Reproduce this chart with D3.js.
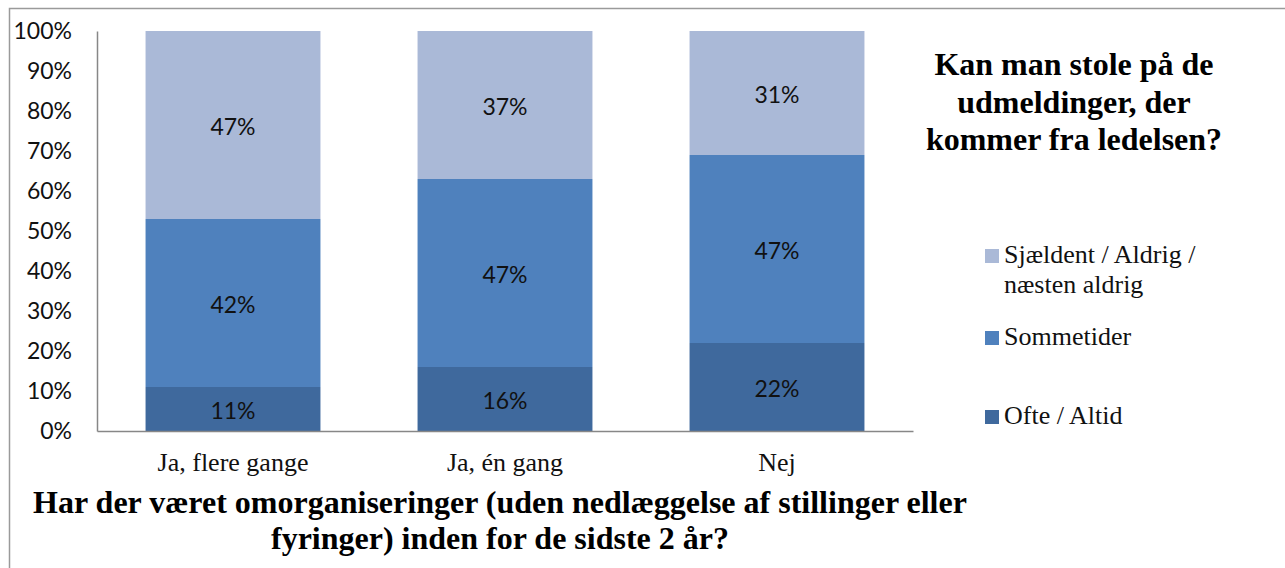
<!DOCTYPE html>
<html>
<head>
<meta charset="utf-8">
<script src="https://cdn.jsdelivr.net/npm/d3@7"></script>
<style>
  html, body { margin: 0; padding: 0; background: #fff; }
  svg { display: block; }
</style>
</head>
<body>
<svg id="chart" width="1285" height="568"></svg>
<script>
// ---- data ----
const categories = ["Ja, flere gange", "Ja, én gang", "Nej"];
const seriesNames = ["Ofte / Altid", "Sommetider", "Sjældent / Aldrig / næsten aldrig"];
const ofteAltid = [0.11, 0.16, 0.22];
const sommetider = [0.42, 0.47, 0.47];
const sjaeldent = [0.47, 0.37, 0.31];
const yTicks = [0, 0.1, 0.2, 0.3, 0.4, 0.5, 0.6, 0.7, 0.8, 0.9, 1.0];
const titleLines = ["Kan man stole på de", "udmeldinger, der", "kommer fra ledelsen?"];
const xTitleLines = ["Har der været omorganiseringer (uden nedlæggelse af stillinger eller", "fyringer) inden for de sidste 2 år?"];
const legendLabels = [["Sjældent / Aldrig /", "næsten aldrig"], ["Sommetider"], ["Ofte / Altid"]];

// ---- styling ----
const colors = ["#3F699D", "#4F81BD", "#AAB9D7"];
const sans = "Lato, 'Open Sans', sans-serif";
const serif = "'Liberation Serif', 'Times New Roman', serif";

const svg = d3.select("#chart");

// outer frame
svg.append("path")
  .attr("d", "M9.5,568 L9.5,8.5 L1285,8.5")
  .attr("fill", "none").attr("stroke", "#9a9a9a").attr("stroke-width", 1.5);

const x = d3.scaleBand().domain(categories).range([97, 913])
  .paddingInner(0.357).paddingOuter(0.1785);
const y = d3.scaleLinear().domain([0, 1]).range([431, 31]);

const rows = categories.map((c, i) => ({cat: c, s0: ofteAltid[i], s1: sommetider[i], s2: sjaeldent[i]}));
const stack = d3.stack().keys(["s0", "s1", "s2"]);
const layers = stack(rows);

const g = svg.append("g");
layers.forEach((layer, li) => {
  const lg = g.append("g");
  lg.selectAll("rect").data(layer).join("rect")
    .attr("x", d => x(d.data.cat))
    .attr("width", x.bandwidth())
    .attr("y", d => y(d[1]))
    .attr("height", d => y(d[0]) - y(d[1]))
    .attr("fill", colors[li]);
  lg.selectAll("text").data(layer).join("text")
    .attr("x", d => x(d.data.cat) + x.bandwidth() / 2)
    .attr("y", d => (y(d[0]) + y(d[1])) / 2)
    .attr("dy", "0.42em")
    .attr("text-anchor", "middle")
    .attr("font-family", sans).attr("font-size", 23)
    .attr("fill", "#111")
    .text(d => Math.round((d[1] - d[0]) * 100) + "%");
});

// y axis
const yAxis = d3.axisLeft(y).tickValues(yTicks).tickSize(0).tickPadding(25)
  .tickFormat(d => Math.round(d * 100) + "%");
const ya = svg.append("g").attr("transform", "translate(97,0)").call(yAxis);
ya.select(".domain").attr("stroke", "#878787").attr("stroke-width", 1.5);
ya.selectAll("text").attr("font-family", sans).attr("font-size", 23).attr("fill", "#111");

// x axis
const xAxis = d3.axisBottom(x).tickSize(0).tickPadding(22).tickSizeOuter(0);
const xa = svg.append("g").attr("transform", "translate(0,431)").call(xAxis);
xa.select(".domain").attr("stroke", "#878787").attr("stroke-width", 1.5);
xa.selectAll("text").attr("font-family", serif).attr("font-size", 26).attr("fill", "#111");

// x axis title
svg.append("g").selectAll("text").data(xTitleLines).join("text")
  .attr("x", 500).attr("y", (d, i) => 513 + i * 36)
  .attr("text-anchor", "middle")
  .attr("font-family", serif).attr("font-weight", "bold").attr("font-size", 32)
  .attr("fill", "#000").text(d => d);

// chart title
svg.append("g").selectAll("text").data(titleLines).join("text")
  .attr("x", 1074).attr("y", (d, i) => 75 + i * 37.5)
  .attr("text-anchor", "middle")
  .attr("font-family", serif).attr("font-weight", "bold").attr("font-size", 32)
  .attr("fill", "#000").text(d => d);

// legend
const legendColors = [colors[2], colors[1], colors[0]];
const legendBase = [263, 345, 424];
const leg = svg.append("g");
legendLabels.forEach((lines, i) => {
  leg.append("rect").attr("x", 985).attr("y", legendBase[i] - 14)
    .attr("width", 14).attr("height", 14).attr("fill", legendColors[i]);
  lines.forEach((t, j) => {
    leg.append("text").attr("x", 1004).attr("y", legendBase[i] + j * 30)
      .attr("font-family", serif).attr("font-size", 26).attr("fill", "#111").text(t);
  });
});
</script>
</body>
</html>
